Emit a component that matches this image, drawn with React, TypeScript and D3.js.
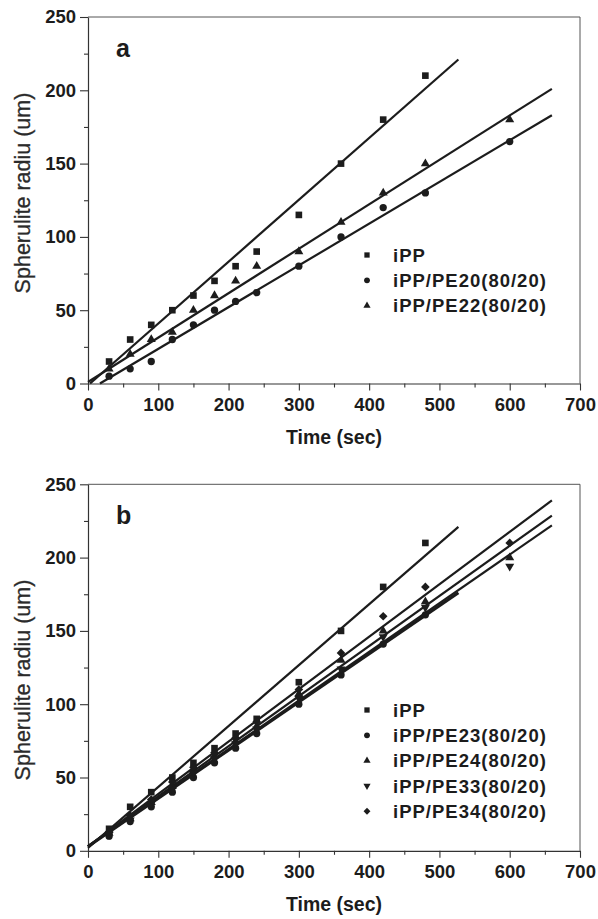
import React, { useEffect, useRef } from "react";
import * as d3 from "d3";

// ---- data ----
const timeShort = [30, 60, 90, 120, 150, 180, 210, 240, 300, 360, 420, 480];
const timeLong = [30, 60, 90, 120, 150, 180, 210, 240, 300, 360, 420, 480, 600];

const iPP = [15, 30, 40, 50, 60, 70, 80, 90, 115, 150, 180, 210];
const pe20 = [5, 10, 15, 30, 40, 50, 56, 62, 80, 100, 120, 130, 165];
const pe22 = [10, 20, 30, 35, 50, 60, 70, 80, 90, 110, 130, 150, 180];

const pe23 = [10, 20, 30, 40, 50, 60, 70, 80, 100, 120, 141, 161];
const pe24 = [12, 22, 33, 44, 55, 65, 75, 85, 107, 130, 150, 170, 200];
const pe33 = [11, 21, 32, 42, 53, 63, 73, 83, 104, 124, 146, 166, 194];
const pe34 = [13, 24, 35, 47, 57, 67, 77, 88, 110, 135, 160, 180, 210];

// linear fits: [[xStart, yStart], [xEnd, yEnd]] in data units
const fitIPPa = [[3, 0], [527, 221]];
const fitPE20 = [[17, 0], [660, 183]];
const fitPE22 = [[0, 1], [660, 201]];
const fitIPPb = [[0, 2], [527, 221]];
const fitPE23 = [[0, 3], [527, 176]];
const fitPE24 = [[0, 3], [660, 228.6]];
const fitPE33 = [[0, 3], [660, 222]];
const fitPE34 = [[0, 3], [660, 239]];

const xTicks = [0, 100, 200, 300, 400, 500, 600, 700];
const xMinor = [50, 150, 250, 350, 450, 550, 650];
const yTicks = [0, 50, 100, 150, 200, 250];
const yMinor = [25, 75, 125, 175, 225];

const labelsA = ["iPP", "iPP/PE20(80/20)", "iPP/PE22(80/20)"];
const labelsB = ["iPP", "iPP/PE23(80/20)", "iPP/PE24(80/20)", "iPP/PE33(80/20)", "iPP/PE34(80/20)"];

const FONT = "'Liberation Sans', Arial, Helvetica, sans-serif";
const INK = "#1c1c1c";

const symSquare = d3.symbol().type(d3.symbolSquare);
const symCircle = d3.symbol().type(d3.symbolCircle);
const symTri = d3.symbol().type(d3.symbolTriangle);

const marker = (kind, size) => {
  if (kind === "square") return { d: symSquare.size(size)(), rot: 0 };
  if (kind === "circle") return { d: symCircle.size(size * 0.95)(), rot: 0 };
  if (kind === "tri") return { d: symTri.size(size * 0.8)(), rot: 0 };
  if (kind === "down") return { d: symTri.size(size * 0.8)(), rot: 180 };
  return { d: symSquare.size(size * 0.85)(), rot: 45 };
};

const Panel = ({ top, letter, series, labels, legendY, labelY }) => {
  const axRef = useRef(null);
  const x = d3.scaleLinear().domain([0, 700]).range([88, 580]);
  const y = d3.scaleLinear().domain([0, 250]).range([top + 366.5, top]);

  useEffect(() => {
    const g = d3.select(axRef.current);
    g.selectAll("*").remove();
    const xg = g.append("g").attr("transform", `translate(0,${y(0)})`);
    xg.call(d3.axisBottom(x).tickValues(xTicks).tickSize(7).tickSizeOuter(0).tickPadding(7));
    xg.append("g").attr("class", "minor")
      .call(d3.axisBottom(x).tickValues(xMinor).tickSize(4).tickFormat(() => ""));
    const yg = g.append("g").attr("transform", `translate(${x(0)},0)`);
    yg.call(d3.axisLeft(y).tickValues(yTicks).tickSize(8).tickSizeOuter(0).tickPadding(4));
    yg.append("g").attr("class", "minor")
      .call(d3.axisLeft(y).tickValues(yMinor).tickSize(4).tickFormat(() => ""));
    g.selectAll(".minor .domain").remove();
    g.selectAll(".domain").attr("stroke", "#333").attr("stroke-width", 1.2);
    g.selectAll(".tick line").attr("stroke", "#333").attr("stroke-width", 1.1);
    g.selectAll(".tick text")
      .attr("font-family", FONT)
      .attr("font-size", 18.5)
      .attr("font-weight", "bold")
      .attr("fill", INK);
  }, [top]);

  const line = d3.line().x((d) => x(d[0])).y((d) => y(d[1]));

  return (
    <g>
      <line x1={x(0)} x2={x(700)} y1={y(250)} y2={y(250)} stroke="#555" strokeWidth={1} />
      <line x1={x(700)} x2={x(700)} y1={y(250)} y2={y(0)} stroke="#555" strokeWidth={1} />
      <g ref={axRef} />
      {series.map((s, i) => (
        <path key={"f" + i} d={line(s.fit)} fill="none" stroke={INK} strokeWidth={s.width || 2.2} />
      ))}
      {series.map((s, i) =>
        s.values.map((v, j) => {
          const m = marker(s.kind, 44);
          return (
            <path
              key={`p${i}-${j}`}
              d={m.d}
              fill={INK}
              transform={`translate(${x(s.times[j])},${y(v)}) rotate(${m.rot})`}
            />
          );
        })
      )}
      {labels.map((lab, i) => {
        const m = marker(series[i].kind, 28);
        const ly = legendY + i * 25.3;
        return (
          <g key={"l" + i}>
            <path d={m.d} fill={INK} transform={`translate(367,${ly}) rotate(${m.rot})`} />
            <text
              x={393}
              y={ly}
              dy="0.36em"
              fontFamily={FONT}
              fontSize={18.5}
              fontWeight="bold"
              letterSpacing={1}
              fill={INK}
            >
              {lab}
            </text>
          </g>
        );
      })}
      <text x={116} y={top + 40} fontFamily={FONT} fontSize={25} fontWeight="bold" fill={INK}>
        {letter}
      </text>
      <text
        x={334}
        y={y(0) + 60}
        textAnchor="middle"
        fontFamily={FONT}
        fontSize={19.5}
        fontWeight="bold"
        fill={INK}
      >
        Time (sec)
      </text>
      <text
        transform={`translate(30,${labelY}) rotate(-90)`}
        textAnchor="middle"
        fontFamily={FONT}
        fontSize={21.5}
        fill="#2a2a2a"
        stroke="#2a2a2a"
        strokeWidth={0.3}
      >
        Spherulite radiu (um)
      </text>
    </g>
  );
};

export default function App() {
  const seriesA = [
    { kind: "square", times: timeShort, values: iPP, fit: fitIPPa },
    { kind: "circle", times: timeLong, values: pe20, fit: fitPE20 },
    { kind: "tri", times: timeLong, values: pe22, fit: fitPE22 },
  ];
  const seriesB = [
    { kind: "square", times: timeShort, values: iPP, fit: fitIPPb },
    { kind: "circle", times: timeShort, values: pe23, fit: fitPE23, width: 3 },
    { kind: "tri", times: timeLong, values: pe24, fit: fitPE24 },
    { kind: "down", times: timeLong, values: pe33, fit: fitPE33 },
    { kind: "diamond", times: timeLong, values: pe34, fit: fitPE34 },
  ];
  return (
    <svg
      width={598}
      height={919}
      style={{ position: "fixed", left: 0, top: 0, background: "#fff" }}
    >
      <rect width={598} height={919} fill="#fff" />
      <Panel top={17} letter="a" series={seriesA} labels={labelsA} legendY={255} labelY={193} />
      <Panel top={484.3} letter="b" series={seriesB} labels={labelsB} legendY={710} labelY={680} />
    </svg>
  );
}
